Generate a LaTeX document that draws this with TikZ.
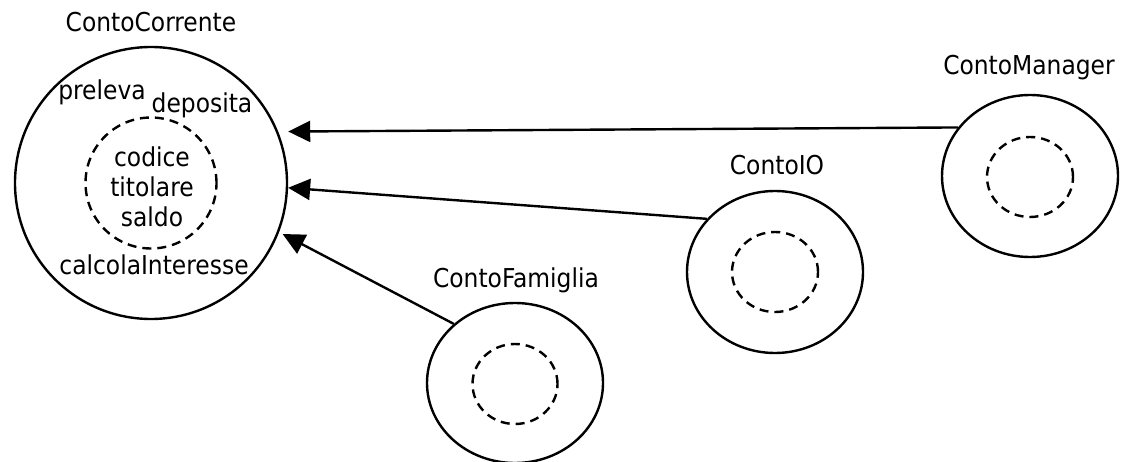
\documentclass[tikz,border=0pt]{standalone}
\usepackage{fontspec}
\setmainfont{DejaVu Sans Condensed}
\usetikzlibrary{shapes.geometric,arrows.meta}
\begin{document}
\begin{tikzpicture}[x=1pt,y=-1pt,
  lbl/.style={font=\fontsize{26}{30}\selectfont, anchor=base, inner sep=0pt},
  outer/.style={ellipse, draw, line width=2.4pt, inner sep=0pt},
  inner/.style={ellipse, draw, line width=2.4pt, dash pattern=on 9pt off 6pt, inner sep=0pt},
  arr/.style={line width=2.4pt, -{Triangle[length=22pt,width=21pt]}}]
\useasboundingbox (0,0) rectangle (1123,462);
% ContoCorrente
\node[outer, minimum width=272pt, minimum height=272pt] (cm) at (151,183) {};
\node[inner, minimum width=131pt, minimum height=131pt] (cmi) at (151,183) {};
\node[lbl] (cmt) at (151,32) {ContoCorrente};
\node[lbl] (prel) at (102,100) {preleva};
\node[lbl] (dep) at (202,113) {deposita};
\node[lbl] (cod) at (152,167) {codice};
\node[lbl] (tit) at (152,197) {titolare};
\node[lbl] (sal) at (152,227) {saldo};
\node[lbl] (calc) at (154,274) {calcolaInteresse};
% ContoFamiglia
\node[outer, minimum width=176pt, minimum height=160pt] (fam) at (515,383) {};
\node[inner, minimum width=85pt, minimum height=80pt] (fami) at (515,384) {};
\node[lbl] (famt) at (516,287) {ContoFamiglia};
% ContoIO
\node[outer, minimum width=176pt, minimum height=162pt] (io) at (775,272) {};
\node[inner, minimum width=86pt, minimum height=80pt] (ioi) at (775,272) {};
\node[lbl] (iot) at (777,175) {ContoIO};
% ContoManager
\node[outer, minimum width=176pt, minimum height=162pt] (mgr) at (1030,176) {};
\node[inner, minimum width=86pt, minimum height=80pt] (mgri) at (1030,177) {};
\node[lbl] (mgrt) at (1029,75) {ContoManager};
% arrows
\draw[arr, shorten >=10pt] (mgr.146.5) -- (cm.22);
\draw[arr] (io.142) -- (cm.-2);
\draw[arr, shorten >=4pt] (fam.136) -- (cm.-21);
\end{tikzpicture}
\end{document}
